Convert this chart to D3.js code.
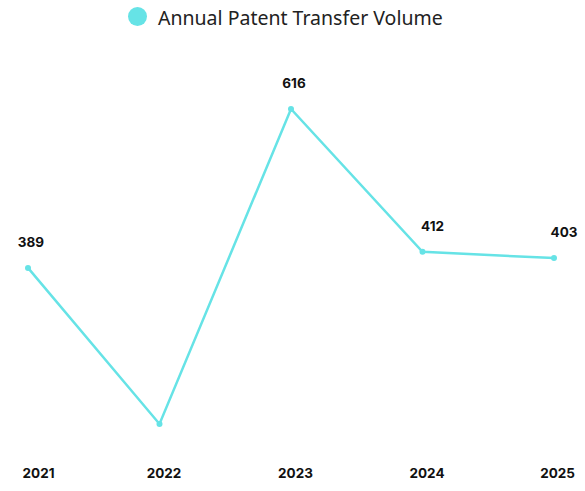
<!DOCTYPE html>
<html><head><meta charset="utf-8">
<script src="https://cdn.jsdelivr.net/npm/d3@7"></script>
<style>html,body{margin:0;padding:0;background:#fff;}svg{display:block;}</style>
</head><body>
<svg id="chart" width="585" height="491"></svg>
<script>
const years = ["2021", "2022", "2023", "2024", "2025"];
const transfers = [389, 166, 616, 412, 403];
const seriesName = "Annual Patent Transfer Volume";
const color = "#66e3e6";

const W = 585, H = 491;
const svg = d3.select("#chart");

const x = d3.scalePoint().domain(years).range([28, 554]);
const y = d3.scaleLinear().domain([d3.min(transfers), d3.max(transfers)]).range([424, 109]);

// legend
const lg = svg.append("g");
lg.append("circle").attr("cx", 137.5).attr("cy", 16.5).attr("r", 9.5).attr("fill", color);
lg.append("text").attr("x", 158).attr("y", 24.5)
  .attr("font-family", "'Noto Sans', sans-serif").attr("font-size", 19.5).attr("fill", "#222")
  .text(seriesName);

const data = years.map((yr, i) => ({yr, v: transfers[i]}));

svg.append("path").datum(data)
  .attr("fill", "none").attr("stroke", color).attr("stroke-width", 2.5)
  .attr("d", d3.line().x(d => x(d.yr)).y(d => y(d.v)));

svg.selectAll("circle.pt").data(data).enter().append("circle").attr("class", "pt")
  .attr("cx", d => x(d.yr)).attr("cy", d => y(d.v)).attr("r", 3).attr("fill", color);

// data labels (lowest point label hidden, as in original)
const minV = d3.min(transfers);
svg.selectAll("text.lbl").data(data.filter(d => d.v !== minV)).enter().append("text").attr("class", "lbl")
  .attr("x", (d, i) => x(d.yr) + (d.v < transfers[years.indexOf(d.yr) - 1] ? 10 : 3))
  .attr("y", d => y(d.v) - 21)
  .attr("text-anchor", "middle")
  .attr("font-family", "Inter, sans-serif").attr("font-weight", 700).attr("font-size", 13.5).attr("fill", "#111")
  .text(d => d.v);

// x axis labels
const axis = d3.axisBottom(x).tickSize(0).tickPadding(0);
const ag = svg.append("g").attr("transform", "translate(0,468)").call(axis);
ag.select(".domain").remove();
ag.selectAll("text")
  .attr("font-family", "Inter, sans-serif").attr("font-weight", 700).attr("font-size", 13.5).attr("fill", "#111")
  .attr("dy", "0.71em")
  .attr("x", function(d) {
    const cx = x(d) + 4;
    const half = 17;
    const c = Math.max(half + 21, Math.min(W - half - 11, cx));
    return c - x(d);
  });
</script>
</body></html>
